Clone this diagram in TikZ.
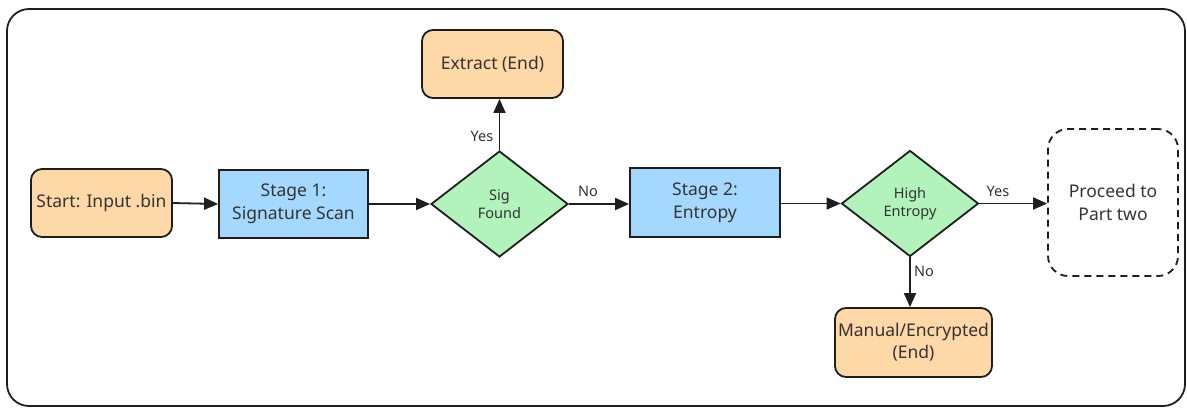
\documentclass[tikz,border=0pt]{standalone}
\usepackage{fontspec}
\setmainfont{Noto Sans}
\usetikzlibrary{shapes.geometric,arrows.meta}
\definecolor{ink}{HTML}{1E1E1E}
\definecolor{txt}{HTML}{333333}
\definecolor{peach}{HTML}{FFD8A8}
\definecolor{sky}{HTML}{A5D8FF}
\definecolor{mint}{HTML}{B2F2BB}
\tikzset{
  x=1pt, y=-1pt,
  every node/.style={text=txt, align=center, inner sep=0pt},
  terminal/.style={draw=ink, line width=1.8pt, fill=peach, rounded corners=11pt,
    font=\fontsize{17.5}{22}\selectfont},
  process/.style={draw=ink, line width=1.8pt, fill=sky,
    font=\fontsize{17.5}{23}\selectfont},
  decision/.style={draw=ink, line width=1.8pt, fill=mint, diamond, aspect=1.3,
    minimum width=137pt, minimum height=106pt, font=\fontsize{14.5}{18}\selectfont},
  future/.style={draw=ink, line width=1.8pt, dashed, dash pattern=on 7pt off 5pt,
    rounded corners=20pt, font=\fontsize{17.5}{23}\selectfont},
  flow/.style={draw=ink, line width=1.8pt, -{Triangle[length=14pt,width=12pt]}},
  lbl/.style={font=\fontsize{14.5}{17}\selectfont}
}
\begin{document}
\begin{tikzpicture}
\useasboundingbox (0,0) rectangle (1187,408);
% outer frame
\draw[ink, line width=1.8pt, rounded corners=22pt] (7,9) rectangle (1185,406);

\node[terminal, minimum width=141pt, minimum height=68pt] (start) at (101.5,203) {Start: Input .bin};
\node[process, minimum width=149pt, minimum height=68pt] (s1) at (293.5,204) {Stage 1:\\Signature Scan};
\node[decision] (sig) at (499.5,204) {Sig\\Found};
\node[terminal, minimum width=141pt, minimum height=68pt] (extract) at (492.5,64) {Extract (End)};
\node[process, minimum width=150pt, minimum height=69pt] (s2) at (705,202.5) {Stage 2:\\Entropy};
\node[decision] (high) at (910,203.5) {High\\Entropy};
\node[future, minimum width=130pt, minimum height=147pt] (part2) at (1113,202.5) {Proceed to\\Part two};
\node[terminal, minimum width=157pt, minimum height=69pt] (manual) at (913.5,342.5) {Manual/Encrypted\\(End)};

\draw[flow] (start.east) -- (s1.west);
\draw[flow] (s1.east) -- (sig.west);
\draw[flow] (sig.north) -- (sig.north |- extract.south);
\draw[flow] (sig.east) -- (s2.west |- sig.east);
\draw[flow] (s2.east |- high.west) -- (high.west);
\draw[flow] (high.east) -- (part2.west |- high.east);
\draw[flow] (high.south) -- (high.south |- manual.north);

\node[lbl] (yes1) at (482,136) {Yes};
\node[lbl] (no1) at (588,191) {No};
\node[lbl] (yes2) at (998,191) {Yes};
\node[lbl] (no2) at (924,271) {No};
\end{tikzpicture}
\end{document}
